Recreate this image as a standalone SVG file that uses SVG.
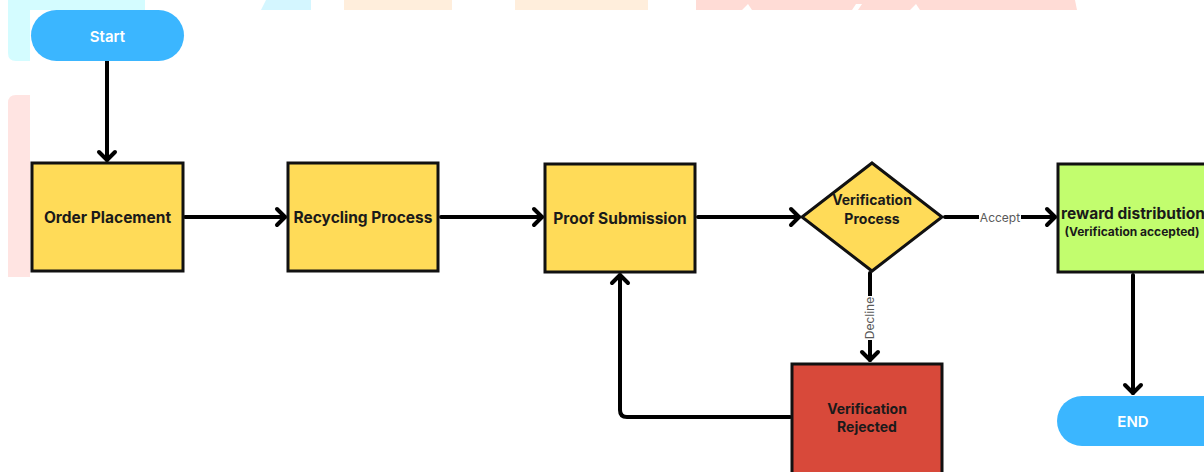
<svg xmlns="http://www.w3.org/2000/svg" width="1204" height="472" viewBox="0 0 1204 472">
  <style>
    .proc { fill: #FFDB58; stroke: #111; stroke-width: 3; }
    .ok { fill: #C2FD6E; stroke: #111; stroke-width: 3; }
    .bad { fill: #D8493A; stroke: #111; stroke-width: 3; }
    .term { fill: #3BB6FF; }
    .lbl { font-family: Inter, "Liberation Sans", sans-serif; font-weight: 700; fill: #1a1a1a; text-anchor: middle; dominant-baseline: central; }
    .tlbl { font-family: Inter, "Liberation Sans", sans-serif; font-weight: 600; fill: #ffffff; text-anchor: middle; dominant-baseline: central; font-size: 15px; }
    .edge { fill: none; stroke: #000; stroke-width: 4; stroke-linecap: round; stroke-linejoin: round; }
    .elbl { font-family: Inter, "Liberation Sans", sans-serif; font-size: 12px; fill: #5a5a5a; text-anchor: middle; dominant-baseline: central; }
    .wm { stroke: none; }
  </style>
  <defs>
    <marker id="chev" markerUnits="userSpaceOnUse" viewBox="-12 -12 16 24" refX="0" refY="0" markerWidth="16" markerHeight="24" orient="auto">
      <path d="M-8,-8 L0,0 L-8,8" fill="none" stroke="#000" stroke-width="4" stroke-linecap="round" stroke-linejoin="round"/>
    </marker>
  </defs>

  <rect width="1204" height="472" fill="#ffffff"/>

  <!-- faint background mark -->
  <g id="backdrop">
    <path class="wm" fill="#D4FCFF" d="M8,0 H145 V10 H30 V61 H16 Q8,61 8,53 Z"/>
    <path class="wm" fill="#FFE4E2" d="M16,95 H30 V277 H8 V103 Q8,95 16,95 Z"/>
    <path class="wm" fill="#D4F6FF" d="M266,0 H311 V10 H261 Z"/>
    <rect class="wm" fill="#FFEEDC" x="344" y="0" width="108" height="10"/>
    <rect class="wm" fill="#FFEEDC" x="515" y="0" width="133" height="10"/>
    <path class="wm" fill="#FFDCD6" d="M696,0 H1075 L1077,10 H920 L916,4 L910,10 H858 L862,4 L856,4 L852,10 H752 L748,4 L742,10 H696 Z"/>
  </g>

  <!-- connectors -->
  <g id="connectors">
    <path class="edge" d="M107,61 V160" marker-end="url(#chev)"/>
    <path class="edge" d="M185,217 H285" marker-end="url(#chev)"/>
    <path class="edge" d="M441,217 H542" marker-end="url(#chev)"/>
    <path class="edge" d="M698,217 H799" marker-end="url(#chev)"/>
    <path class="edge" d="M945,217 H1055" marker-end="url(#chev)"/>
    <path class="edge" d="M870,273 V360" marker-end="url(#chev)"/>
    <path class="edge" d="M790,417 H627 Q620,417 620,410 V275" marker-end="url(#chev)"/>
    <path class="edge" d="M1133,275 V393" marker-end="url(#chev)"/>
    <rect x="979" y="209" width="42" height="16" fill="#ffffff"/>
    <text class="elbl" x="1000" y="217.5">Accept</text>
    <rect x="861" y="296" width="16" height="44" fill="#ffffff"/>
    <text class="elbl" x="0" y="0" transform="translate(869,318) rotate(-90)">Decline</text>
  </g>

  <g id="start">
    <rect class="term" x="31" y="10" width="153" height="51" rx="25.5"/>
    <text class="tlbl" x="107.5" y="36">Start</text>
  </g>

  <g id="order-placement">
    <rect class="proc" x="32" y="163" width="151" height="108"/>
    <text class="lbl" x="107.5" y="217" font-size="15.5">Order Placement</text>
  </g>

  <g id="recycling-process">
    <rect class="proc" x="288" y="163" width="150" height="108"/>
    <text class="lbl" x="363" y="217" font-size="15.5">Recycling Process</text>
  </g>

  <g id="proof-submission">
    <rect class="proc" x="545" y="164" width="150" height="108"/>
    <text class="lbl" x="620" y="218" font-size="15.5">Proof Submission</text>
  </g>

  <g id="verification-process">
    <polygon class="proc" points="872,163 942,217 872,271 802,217" stroke-width="3.5"/>
    <text class="lbl" x="872" y="199" font-size="14">Verification</text>
    <text class="lbl" x="872" y="218" font-size="14">Process</text>
  </g>

  <g id="reward-distribution">
    <rect class="ok" x="1058" y="164" width="160" height="108"/>
    <text class="lbl" x="1133" y="213" font-size="15.5">reward distribution</text>
    <text class="lbl" x="1132" y="231" font-size="12">(Verification accepted)</text>
  </g>

  <g id="verification-rejected">
    <rect class="bad" x="792" y="364" width="150" height="120"/>
    <text class="lbl" x="867" y="408" font-size="14">Verification</text>
    <text class="lbl" x="867" y="426" font-size="14">Rejected</text>
  </g>

  <g id="end">
    <rect class="term" x="1057" y="396" width="170" height="50" rx="25"/>
    <text class="tlbl" x="1133" y="421">END</text>
  </g>
</svg>
